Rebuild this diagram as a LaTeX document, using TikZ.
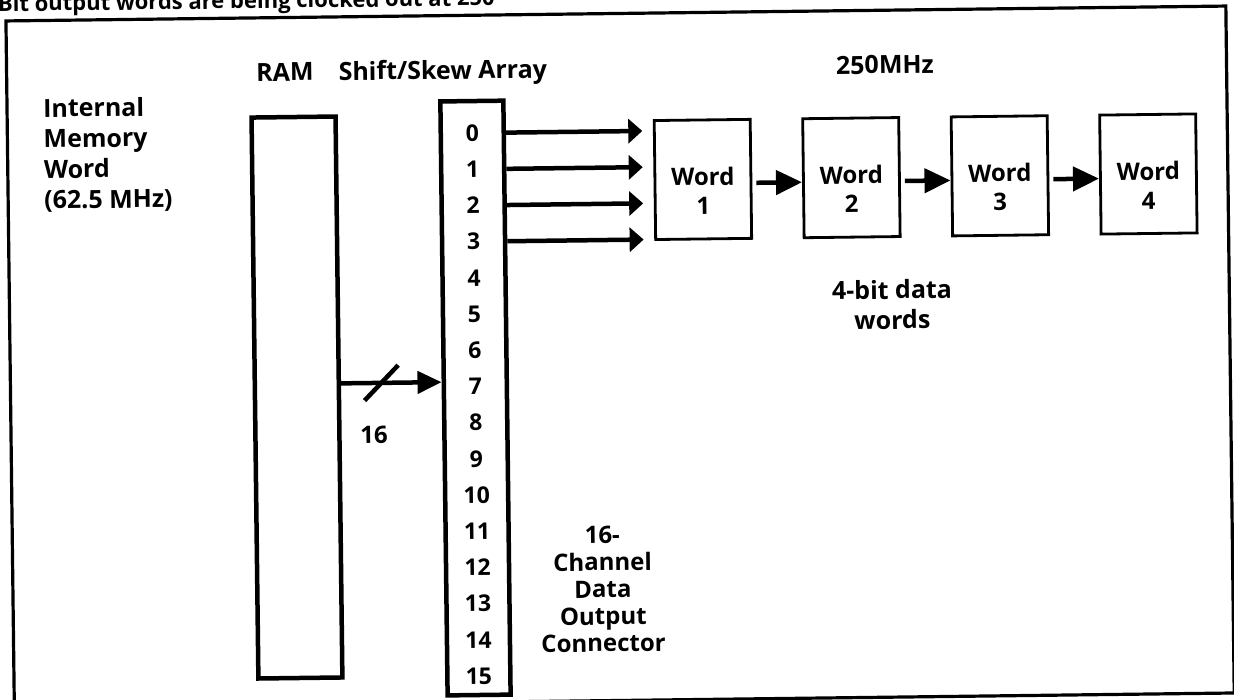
\documentclass[tikz,border=0pt]{standalone}
\usepackage{fontspec}
\setmainfont{Open Sans}
\usetikzlibrary{arrows.meta,calc}
\tikzset{
  lbl/.style={font=\fontsize{24}{27}\selectfont\bfseries, inner sep=0pt, align=center},
  hdr/.style={font=\fontsize{25}{30}\selectfont\bfseries, inner sep=0pt, anchor=base},
  num/.style={font=\fontsize{23}{26}\selectfont\bfseries, inner sep=0pt},
  bar/.style={draw, line width=4.5pt, inner sep=0pt},
  wordbox/.style={draw, line width=2.8pt, minimum width=96pt, minimum height=119pt, inner sep=0pt},
  outarrow/.style={line width=4.5pt, -{Triangle[length=14pt,width=24pt]}},
  chainarrow/.style={line width=4.5pt, -{Triangle[length=26pt,width=24pt]}},
  busarrow/.style={line width=4.5pt, -{Triangle[length=24pt,width=22pt]}},
  frameline/.style={line width=3.2pt},
}
\begin{document}
\begin{tikzpicture}[x=1pt,y=-1pt]
\useasboundingbox (0,0) rectangle (1234,699);
\clip (0,0) rectangle (1234,699);
\begin{scope}[rotate around={0.7:(617,350)}, transform shape]
  % cut-off caption line above the frame
  \node[font=\fontsize{22}{26}\selectfont\bfseries, inner sep=0pt, anchor=base west] (cap) at (2,4) {Bit output words are being clocked out at 250};
  % frame
  \draw[frameline] (10,13.5) rectangle (1230,700.5);
  % headers
  \node[hdr] (hram) at (288.3,77) {RAM};
  \node[hdr] (harr) at (446.3,77) {Shift/Skew Array};
  \node[hdr] (hmhz) at (888.4,77) {250MHz};
  % left label
  \node[font=\fontsize{25}{30.6}\selectfont\bfseries, inner sep=0pt, align=left, anchor=north west] (iml) at (46,91) {Internal\\Memory\\Word\\(62.5 MHz)};
  % RAM bar and shift/skew array
  \node[bar, minimum width=84pt, minimum height=561pt] (ram) at (296.4,393.6) {};
  \node[bar, minimum width=63pt, minimum height=594pt] (arr) at (474.9,396.3) {};
  \foreach \i in {0,...,15} {
    \node[num] (n\i) at (474.9,{131.3+36.2*\i}) {\i};
  }
  % output arrows 0-3
  \foreach \i/\t in {0/0.0572,1/0.1177,2/0.1782,3/0.2387} {
    \coordinate (t\i) at (645,{131.3+36.2*\i});
    \draw[outarrow] ($(arr.north east)!\t!(arr.south east)$) -- (t\i);
  }
  % bus arrow RAM -> array
  \draw[busarrow] ($(ram.north east)!0.476!(ram.south east)$) -- ($(arr.north west)!0.4728!(arr.south west)$);
  \coordinate (sla) at (364,397.5);
  \coordinate (slb) at (398,362.5);
  \draw[line width=4.5pt] (sla) -- (slb);
  \node[lbl] (bus16) at (373,432) {16};
  % word boxes
  \foreach \i/\x in {1/705,2/853.5,3/1002,4/1150.5} {
    \node[wordbox] (w\i) at (\x,180.5) {};
    \node[font=\fontsize{24}{29}\selectfont\bfseries, inner sep=0pt, align=center] (w\i t) at (\x,192) {Word\\\i};
  }
  \draw[chainarrow] ([shift={(4,4)}]w1.east) -- ([shift={(0,4)}]w2.west);
  \draw[chainarrow] ([shift={(4,4)}]w2.east) -- ([shift={(0,4)}]w3.west);
  \draw[chainarrow] ([shift={(4,4)}]w3.east) -- ([shift={(0,4)}]w4.west);
  % other labels
  \node[font=\fontsize{25}{30}\selectfont\bfseries, inner sep=0pt, align=center] (bits) at (892.7,308) {4-bit data\\words};
  \node[lbl] (conn) at (600,589) {16-\\Channel\\Data\\Output\\Connector};
\end{scope}
\end{tikzpicture}
\end{document}
